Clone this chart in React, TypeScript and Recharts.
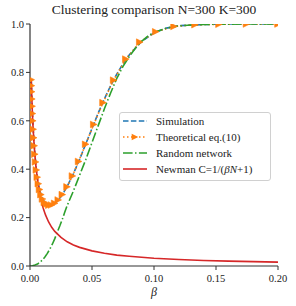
import React from 'react';
import { LineChart, Line, XAxis, YAxis, Legend, Label } from 'recharts';

const theoryBeta = [0.00100, 0.00115, 0.00131, 0.00150, 0.00172, 0.00197, 0.00226, 0.00259, 0.00297, 0.00340, 0.00389, 0.00446, 0.00511, 0.00585, 0.00670, 0.00767, 0.00879, 0.01007, 0.01153, 0.01321, 0.01514, 0.01734, 0.01986, 0.02275, 0.02606, 0.02985, 0.03420, 0.03917, 0.04487, 0.05140, 0.05888, 0.06745, 0.07727, 0.08851, 0.10139, 0.11614, 0.13304, 0.15240, 0.17458, 0.19999];
const theoryValues = [0.77, 0.745, 0.72, 0.69, 0.66, 0.63, 0.6, 0.565, 0.53, 0.497, 0.462, 0.43, 0.397, 0.367, 0.34, 0.316, 0.295, 0.277, 0.263, 0.255, 0.251, 0.252, 0.259, 0.273, 0.295, 0.327, 0.372, 0.432, 0.503, 0.585, 0.675, 0.768, 0.855, 0.925, 0.968, 0.99, 0.997, 0.999, 1.0, 1.0];

const simBeta = [0.001, 0.002, 0.003, 0.004, 0.005, 0.0065, 0.008, 0.01, 0.0125, 0.015, 0.0175, 0.02, 0.0225, 0.025, 0.0275, 0.03, 0.035, 0.04, 0.045, 0.05, 0.055, 0.06, 0.065, 0.07, 0.075, 0.08, 0.09, 0.1, 0.11, 0.12, 0.14, 0.16, 0.18, 0.2];
const simValues = [0.77, 0.625, 0.528, 0.458, 0.404, 0.345, 0.31, 0.278, 0.259, 0.251, 0.252, 0.259, 0.271, 0.287, 0.307, 0.329, 0.381, 0.441, 0.505, 0.568, 0.632, 0.69, 0.745, 0.793, 0.836, 0.872, 0.928, 0.963, 0.983, 0.993, 0.998, 1.0, 1.0, 1.0];

const randomBeta = [0, 0.002, 0.004, 0.006, 0.008, 0.01, 0.012, 0.014, 0.016, 0.018, 0.02, 0.022, 0.024, 0.026, 0.028, 0.03, 0.035, 0.04, 0.045, 0.05, 0.055, 0.06, 0.065, 0.07, 0.075, 0.08, 0.085, 0.09, 0.095, 0.1, 0.11, 0.12, 0.13, 0.14, 0.15, 0.17, 0.2];
const randomValues = [0, 0.001, 0.004, 0.008, 0.015, 0.025, 0.037, 0.052, 0.07, 0.09, 0.113, 0.14, 0.165, 0.192, 0.222, 0.25, 0.31, 0.375, 0.44, 0.51, 0.58, 0.65, 0.715, 0.775, 0.825, 0.865, 0.9, 0.928, 0.95, 0.965, 0.983, 0.992, 0.996, 0.998, 0.999, 1.0, 1.0];

const newmanBeta = [0.001, 0.0012, 0.0015, 0.002, 0.0025, 0.003, 0.004, 0.005, 0.0065, 0.008, 0.009, 0.01, 0.011, 0.0125, 0.015, 0.0175, 0.02, 0.025, 0.03, 0.035, 0.04, 0.05, 0.06, 0.07, 0.08, 0.09, 0.1, 0.12, 0.14, 0.16, 0.18, 0.2];
const newmanValues = [0.769, 0.735, 0.69, 0.625, 0.571, 0.526, 0.455, 0.4, 0.339, 0.294, 0.27, 0.25, 0.233, 0.211, 0.182, 0.16, 0.143, 0.118, 0.1, 0.087, 0.077, 0.0625, 0.053, 0.045, 0.04, 0.036, 0.032, 0.027, 0.023, 0.02, 0.018, 0.016];

const xTicks = [0, 0.05, 0.1, 0.15, 0.2];
const yTicks = [0, 0.2, 0.4, 0.6, 0.8, 1.0];

const titleText = 'Clustering comparison N=300 K=300';
const xLabelText = 'β';
const legendLabels = ['Simulation', 'Theoretical eq.(10)', 'Random network'];

const C_BLUE = '#1f77b4';
const C_ORANGE = '#ff7f0e';
const C_GREEN = '#2ca02c';
const C_RED = '#d62728';
const FONT = 'Liberation Serif';

const toData = (xs: number[], ys: number[]) => xs.map((b, i) => ({ b, v: ys[i] }));

const simData = toData(simBeta, simValues);
const theoryData = toData(theoryBeta, theoryValues);
const randomData = toData(randomBeta, randomValues);
const newmanData = toData(newmanBeta, newmanValues);

const TriDot = (props: any) => {
  const { cx, cy, index } = props;
  if (cx == null || cy == null) return <g key={`t-${index}`} />;
  const r = 3.3;
  return (
    <polygon
      key={`t-${index}`}
      points={`${cx + r},${cy} ${cx - r},${cy - r} ${cx - r},${cy + r}`}
      fill={C_ORANGE}
      stroke={C_ORANGE}
      strokeWidth={0.6}
    />
  );
};

const Sample = ({ color, dash, marker }: { color: string; dash?: string; marker?: boolean }) => (
  <svg width={24} height={12} style={{ display: 'block' }}>
    <line x1={0} y1={6} x2={24} y2={6} stroke={color} strokeWidth={1.6} strokeDasharray={dash} />
    {marker && <polygon points={`15.3,6 8.7,2.7 8.7,9.3`} fill={color} />}
  </svg>
);

const LegendBox = () => {
  const rows: { color: string; dash?: string; marker?: boolean; label: React.ReactNode }[] = [
    { color: C_BLUE, dash: '5.5 2.4', label: legendLabels[0] },
    { color: C_ORANGE, dash: '1.5 2.5', marker: true, label: legendLabels[1] },
    { color: C_GREEN, dash: '9.6 2.4 1.5 2.4', label: legendLabels[2] },
    {
      color: C_RED,
      label: (
        <span>
          Newman C=1/(<i>β</i>
          <i>N</i>+1)
        </span>
      ),
    },
  ];
  return (
    <div
      style={{
        border: '1px solid #d0d0d0',
        borderRadius: 3,
        background: 'rgba(255,255,255,0.85)',
        padding: '0 0 3px 3px',
        width: 152,
        boxSizing: 'border-box',
        fontFamily: FONT,
        fontSize: 11,
        color: '#222',
      }}
    >
      {rows.map((r, i) => (
        <div key={i} style={{ display: 'flex', alignItems: 'center', height: 16 }}>
          <Sample color={r.color} dash={r.dash} marker={r.marker} />
          <span style={{ marginLeft: 9, whiteSpace: 'nowrap' }}>{r.label}</span>
        </div>
      ))}
    </div>
  );
};

export default function App() {
  return (
    <div style={{ position: 'absolute', left: 0, top: 0, width: 296, height: 306, background: '#fff', fontFamily: FONT }}>
      <div
        style={{
          position: 'absolute',
          left: 30,
          width: 248,
          top: 2,
          textAlign: 'center',
          fontFamily: FONT,
          fontSize: 13.5,
          color: '#222',
          whiteSpace: 'nowrap',
        }}
      >
        {titleText}
      </div>
      <LineChart width={296} height={306} margin={{ top: 24, right: 18, left: 0, bottom: 0 }} style={{ fontFamily: FONT }}>
        <XAxis
          dataKey="b"
          type="number"
          domain={[0, 0.2]}
          ticks={xTicks}
          allowDataOverflow
          tickFormatter={(v: number) => v.toFixed(2)}
          height={40}
          tickSize={4}
          tickMargin={5}
          stroke="#333"
          tick={{ fill: '#222', fontFamily: FONT, fontSize: 10.5 }}
          axisLine={{ stroke: '#333', strokeWidth: 1.2 }}
          tickLine={{ stroke: '#333', strokeWidth: 1 }}
        >
          <Label
            content={(p: any) => {
              const vb = p.viewBox || {};
              return (
                <text
                  x={vb.x + vb.width / 2}
                  y={vb.y + 30}
                  textAnchor="middle"
                  fontFamily={FONT}
                  fontStyle="italic"
                  fontSize={12}
                  fill="#222"
                >
                  {xLabelText}
                </text>
              );
            }}
          />
        </XAxis>
        <XAxis
          xAxisId="top"
          orientation="top"
          type="number"
          domain={[0, 0.2]}
          height={0}
          tick={false}
          tickLine={false}
          axisLine={{ stroke: '#333', strokeWidth: 1.2 }}
        />
        <YAxis
          type="number"
          domain={[0, 1]}
          ticks={yTicks}
          allowDataOverflow
          tickFormatter={(v: number) => v.toFixed(1)}
          width={30}
          tickSize={4}
          tickMargin={2}
          tick={{ fill: '#222', fontFamily: FONT, fontSize: 10.5 }}
          axisLine={{ stroke: '#333', strokeWidth: 1.2 }}
          tickLine={{ stroke: '#333', strokeWidth: 1 }}
        />
        <YAxis
          yAxisId="right"
          orientation="right"
          type="number"
          domain={[0, 1]}
          width={0}
          tick={false}
          tickLine={false}
          axisLine={{ stroke: '#333', strokeWidth: 1.2 }}
        />
        <Legend
          layout="horizontal"
          verticalAlign="middle"
          align="center"
          content={() => <LegendBox />}
          wrapperStyle={{ position: 'absolute', left: 119, top: 112, width: 152, height: 67 }}
        />
        <Line
          data={simData}
          dataKey="v"
          type="linear"
          stroke={C_BLUE}
          strokeWidth={1.6}
          strokeDasharray="5.5 2.4"
          dot={false}
          activeDot={false}
          isAnimationActive={false}
          name="Simulation"
        />
        <Line
          data={theoryData}
          dataKey="v"
          type="linear"
          stroke={C_ORANGE}
          strokeWidth={1.6}
          strokeDasharray="1.5 2.5"
          dot={TriDot}
          activeDot={false}
          isAnimationActive={false}
          name="Theoretical"
        />
        <Line
          data={randomData}
          dataKey="v"
          type="linear"
          stroke={C_GREEN}
          strokeWidth={1.6}
          strokeDasharray="9.6 2.4 1.5 2.4"
          dot={false}
          activeDot={false}
          isAnimationActive={false}
          name="Random"
        />
        <Line
          data={newmanData}
          dataKey="v"
          type="linear"
          stroke={C_RED}
          strokeWidth={1.6}
          dot={false}
          activeDot={false}
          isAnimationActive={false}
          name="Newman"
        />
      </LineChart>
    </div>
  );
}
